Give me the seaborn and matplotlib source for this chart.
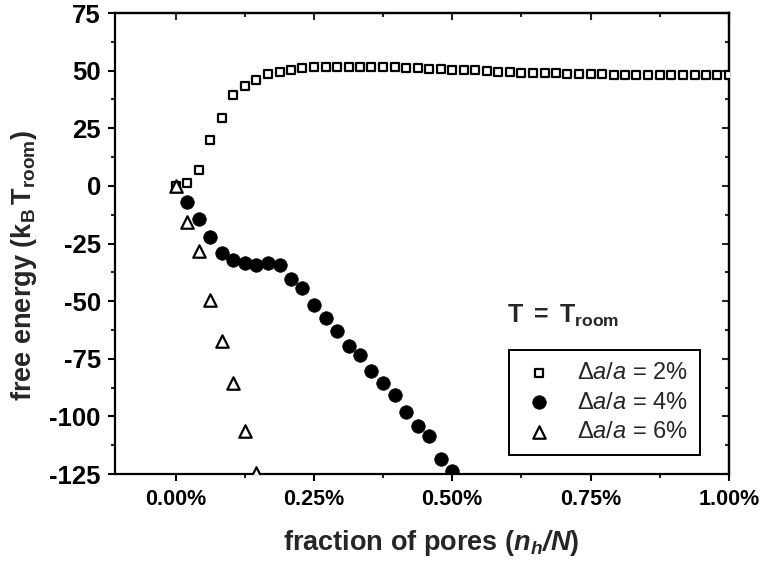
import matplotlib
matplotlib.use("Agg")
import matplotlib.pyplot as plt
from matplotlib.ticker import MultipleLocator, FuncFormatter
import pandas as pd
import seaborn as sns

# fraction of pores n_h/N, in percent
pore_frac_pct = [0.000, 0.021, 0.042, 0.063, 0.083, 0.104, 0.125, 0.146, 0.167,
                 0.188, 0.208, 0.229, 0.250, 0.271, 0.292, 0.313, 0.333, 0.354,
                 0.375, 0.396, 0.417, 0.438, 0.458, 0.479, 0.500, 0.521, 0.542,
                 0.563, 0.583, 0.604, 0.625, 0.646, 0.667, 0.688, 0.708, 0.729,
                 0.750, 0.771, 0.792, 0.813, 0.833, 0.854, 0.875, 0.896, 0.917,
                 0.938, 0.958, 0.979, 1.000]

# free energy (k_B T_room) for the three lattice mismatches
energy_2pct = [0.0, 1.2, 6.8, 19.8, 29.3, 39.6, 43.3, 45.9, 48.4, 49.5, 50.3,
               51.0, 51.4, 51.5, 51.6, 51.7, 51.8, 51.8, 51.7, 51.5, 51.3, 51.1,
               50.9, 50.7, 50.5, 50.3, 50.1, 49.9, 49.6, 49.4, 49.2, 49.0, 48.9,
               48.8, 48.7, 48.6, 48.5, 48.4, 48.3, 48.3, 48.2, 48.2, 48.1, 48.1,
               48.1, 48.0, 48.0, 48.0, 48.0]
energy_4pct = [-6.8, -14.2, -22.0, -29.0, -32.1, -33.3, -34.3, -33.4, -34.3,
               -40.5, -44.2, -51.6, -57.4, -63.1, -69.4, -73.5, -80.5, -85.5,
               -90.6, -98.1, -104.3, -108.6, -118.5, -123.8]
energy_6pct = [0.0, -15.5, -28.4, -49.4, -67.5, -85.5, -106.5, -124.5]

frac_2pct = pore_frac_pct
frac_4pct = pore_frac_pct[1:1 + len(energy_4pct)]
frac_6pct = pore_frac_pct[:len(energy_6pct)]

labels = [r"$\Delta\mathit{a/a}$ = 2%", r"$\Delta\mathit{a/a}$ = 4%",
          r"$\Delta\mathit{a/a}$ = 6%"]

sns.set_style("ticks")
plt.rcParams.update({
    "font.family": ["Liberation Sans", "DejaVu Sans"],
    "font.weight": "bold",
    "mathtext.fontset": "custom",
    "mathtext.rm": "Liberation Sans:normal",
    "mathtext.sf": "Liberation Sans:normal",
    "mathtext.it": "Liberation Sans:italic:normal",
    "mathtext.bf": "Liberation Sans:bold",
    "mathtext.bfit": "Liberation Sans:italic:bold",
    "axes.linewidth": 1.6,
    "axes.edgecolor": "black",
})

fig = plt.figure(figsize=(7.6, 5.67), dpi=100)
ax = fig.add_axes([0.151, 0.164, 0.808, 0.813])

df2 = pd.DataFrame({"frac": frac_2pct, "energy": energy_2pct})
df4 = pd.DataFrame({"frac": frac_4pct, "energy": energy_4pct})
df6 = pd.DataFrame({"frac": frac_6pct, "energy": energy_6pct})

sns.scatterplot(data=df2, x="frac", y="energy", marker="s", s=30,
                color="white", edgecolor="black", linewidth=1.6,
                label=labels[0], ax=ax, zorder=3)
sns.scatterplot(data=df4, x="frac", y="energy", marker="o", s=95,
                color="black", edgecolor="black", linewidth=0.5,
                label=labels[1], ax=ax, zorder=3)
sns.scatterplot(data=df6, x="frac", y="energy", marker="^", s=80,
                color="white", edgecolor="black", linewidth=1.6,
                label=labels[2], ax=ax, zorder=4)

ax.set_xlim(-0.11, 1.0)
ax.set_ylim(-125, 75)

ax.xaxis.set_major_locator(MultipleLocator(0.25))
ax.xaxis.set_minor_locator(MultipleLocator(0.125))
ax.yaxis.set_major_locator(MultipleLocator(25))
ax.yaxis.set_minor_locator(MultipleLocator(12.5))
ax.xaxis.set_major_formatter(FuncFormatter(lambda v, p: f"{v:.2f}%"))
ax.yaxis.set_major_formatter(FuncFormatter(lambda v, p: f"{v:.0f}"))

ax.tick_params(which="major", direction="out", length=5, width=1.5,
               pad=6, colors="black")
ax.tick_params(which="minor", direction="out", length=3, width=1.5)
ax.tick_params(axis="x", labelsize=15.5)
ax.tick_params(axis="y", labelsize=18.5, pad=5)

# inward ticks along the top and right edges
top = ax.secondary_xaxis("top")
top.xaxis.set_major_locator(MultipleLocator(0.25))
top.xaxis.set_minor_locator(MultipleLocator(0.125))
top.tick_params(which="major", direction="in", length=5, width=1.5, labeltop=False)
top.tick_params(which="minor", direction="in", length=3, width=1.5)
right = ax.secondary_yaxis("right")
right.yaxis.set_major_locator(MultipleLocator(25))
right.yaxis.set_minor_locator(MultipleLocator(12.5))
right.tick_params(which="major", direction="in", length=5, width=1.5, labelright=False)
right.tick_params(which="minor", direction="in", length=3, width=1.5)

ax.set_xlabel(r"fraction of pores ($\mathbfit{n_h/N}$)", fontsize=19.5,
              fontweight="bold")
ax.set_ylabel(r"free energy ($\mathbf{k_B\,T_{room}}$)", fontsize=19.5,
              fontweight="bold")
ax.xaxis.set_label_coords(0.516, -0.118)
ax.yaxis.set_label_coords(-0.124, 0.452)

ax.text(0.638, 0.327, r"$\mathbf{T\ =\ T_{room}}$", fontsize=18,
        transform=ax.transAxes, va="baseline", ha="left")

leg = ax.legend(loc="lower right", bbox_to_anchor=(0.953, 0.041),
                frameon=True, fancybox=False, framealpha=1,
                edgecolor="black", prop={"size": 17, "weight": "normal"},
                handletextpad=0.8, borderpad=0.5, labelspacing=0.33,
                borderaxespad=0, handlelength=1.6)
leg.get_frame().set_linewidth(1.4)

fig.savefig("out.png", dpi=100)
